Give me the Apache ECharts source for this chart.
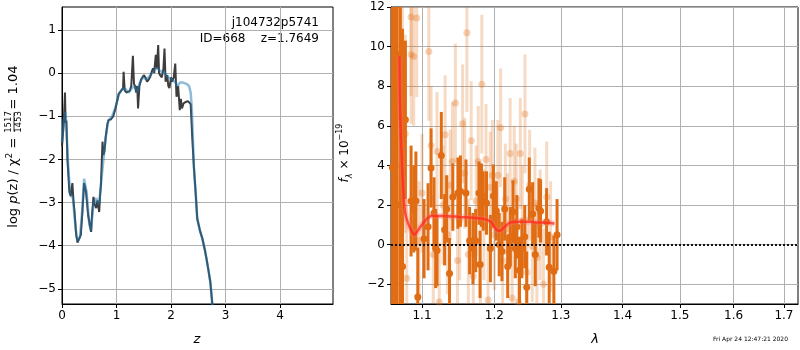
<!DOCTYPE html>
<html>
<head>
<meta charset="utf-8">
<script src="https://cdn.jsdelivr.net/npm/echarts@6/dist/echarts.min.js"></script>
<style>
  html, body { margin: 0; padding: 0; background: #fff; }
  #chart { width: 800px; height: 350px; }
</style>
</head>
<body>
<div id="chart"></div>
<script>
// left panel: log p(z), spiky curve and smooth fit
var zDark = [0.00, 0.03, 0.055, 0.065, 0.08, 0.10, 0.135, 0.16, 0.19, 0.21, 0.23, 0.26, 0.285, 0.31, 0.345, 0.37, 0.405, 0.44, 0.48, 0.534, 0.55, 0.577, 0.60, 0.627, 0.65, 0.682, 0.70, 0.713, 0.743, 0.76, 0.78, 0.80, 0.83, 0.854, 0.90, 0.94, 0.98, 1.02, 1.04, 1.09, 1.12, 1.13, 1.15, 1.18, 1.21, 1.24, 1.27, 1.30, 1.32, 1.34, 1.36, 1.38, 1.395, 1.42, 1.45, 1.50, 1.53, 1.56, 1.59, 1.62, 1.65, 1.67, 1.69, 1.72, 1.74, 1.764, 1.78, 1.80, 1.83, 1.86, 1.88, 1.90, 1.93, 1.95, 1.97, 2.00, 2.02, 2.05, 2.077, 2.10, 2.13, 2.16, 2.18, 2.20, 2.23, 2.27, 2.31, 2.33, 2.36, 2.39, 2.42, 2.45, 2.48, 2.53, 2.575, 2.62, 2.65, 2.69, 2.72, 2.76, 2.80];
var logpDark = [-1.70, -1.20, -0.45, -1.15, -1.10, -2.00, -2.75, -2.85, -2.55, -2.95, -3.22, -3.75, -3.93, -3.90, -3.75, -3.30, -2.55, -2.75, -3.30, -3.68, -3.30, -2.87, -3.05, -3.13, -2.95, -3.22, -2.80, -2.62, -1.59, -1.90, -1.80, -1.50, -1.20, -1.09, -1.07, -1.00, -0.82, -0.60, -0.48, -0.40, -0.35, 0.03, -0.40, -0.45, -0.47, -0.42, -0.30, 0.40, -0.25, -0.30, -0.45, -0.30, -0.82, -0.30, -0.15, -0.05, -0.10, -0.20, -0.15, -0.08, 0.05, 0.11, 0.00, 0.42, 0.10, 0.65, 0.00, -0.05, -0.10, 0.10, 0.57, -0.20, -0.05, -0.30, -0.35, -0.10, -0.20, -0.10, 0.22, -0.55, -0.30, -0.86, -0.60, -0.82, -0.70, -0.67, -0.65, -0.63, -0.72, -1.52, -2.20, -2.75, -3.37, -3.65, -3.84, -4.10, -4.30, -4.60, -4.84, -5.40, -6.00];
var zFit = [0.00, 0.03, 0.06, 0.08, 0.11, 0.15, 0.20, 0.25, 0.285, 0.33, 0.37, 0.405, 0.45, 0.50, 0.53, 0.58, 0.63, 0.68, 0.72, 0.76, 0.80, 0.85, 0.92, 0.98, 1.04, 1.10, 1.15, 1.22, 1.28, 1.33, 1.38, 1.42, 1.48, 1.55, 1.62, 1.68, 1.74, 1.80, 1.88, 1.95, 2.02, 2.08, 2.12, 2.16, 2.22, 2.28, 2.33, 2.36, 2.38, 2.40, 2.42, 2.45, 2.48, 2.53, 2.575, 2.62, 2.65, 2.69, 2.72, 2.76, 2.80];
var logpFit = [-1.60, -1.10, -0.90, -1.20, -2.10, -2.80, -2.90, -3.60, -3.90, -3.80, -3.20, -2.45, -2.75, -3.50, -3.65, -3.00, -2.90, -3.05, -2.50, -2.00, -1.50, -1.10, -1.00, -0.80, -0.50, -0.38, -0.35, -0.45, -0.35, -0.30, -0.45, -0.25, -0.10, -0.15, -0.05, 0.05, 0.12, 0.05, 0.00, -0.10, -0.15, -0.22, -0.30, -0.22, -0.22, -0.25, -0.30, -0.45, -0.80, -1.50, -2.20, -2.75, -3.37, -3.65, -3.84, -4.10, -4.30, -4.60, -4.84, -5.40, -6.00];
var zTicks = [0, 1, 2, 3, 4];
var logpTicks = [-5, -4, -3, -2, -1, 0, 1];

// right panel: spectrum points with errors and model
var lamDark = [1.0615, 1.0644, 1.0675, 1.0717, 1.0745, 1.0782, 1.0856, 1.0891, 1.0919, 1.0944, 1.1027, 1.108, 1.112, 1.116, 1.1182, 1.12, 1.1258, 1.1303, 1.133, 1.137, 1.1415, 1.1485, 1.152, 1.1597, 1.1648, 1.1695, 1.1733, 1.178, 1.1795, 1.1815, 1.184, 1.1887, 1.1943, 1.1986, 1.2029, 1.207, 1.211, 1.215, 1.2194, 1.2233, 1.2272, 1.2306, 1.233, 1.2368, 1.2403, 1.2447, 1.2476, 1.2515, 1.2566, 1.2605, 1.266, 1.2686, 1.2778, 1.2818, 1.289, 1.294];
var fluxDark = [3.9, -0.3, 2.0, 9.6, -1.1, 6.3, 2.2, 1.8, 2.2, -2.65, 0.3, 0.9, 3.87, 1.6, -0.2, -0.3, 4.5, 0.75, 1.8, -1.46, 2.4, 2.6, 2.7, 2.6, 0.2, -0.2, 0.2, 2.6, -1.0, 2.5, 2.2, 2.1, -0.2, 2.45, 1.7, 0.0, -0.35, 1.8, -1.1, 0.4, 1.65, -0.2, 0.9, -1.3, -0.2, 0.4, -2.15, 2.8, 1.55, -0.5, 1.85, 1.7, 1.15, -1.15, -1.35, 0.5];
var errDark = [20, 20, 20, 15, 12, 4, 2.8, 2.2, 2.5, 2.5, 2.0, 2.2, 2.0, 1.8, 2.0, 1.8, 2.2, 1.8, 1.7, 1.8, 1.7, 1.8, 1.8, 1.7, 1.7, 1.8, 1.6, 1.6, 1.7, 1.6, 1.5, 1.6, 1.7, 1.6, 1.5, 1.6, 1.5, 1.6, 1.6, 1.5, 1.6, 1.5, 1.6, 1.7, 1.5, 1.6, 1.8, 1.6, 1.6, 1.6, 1.5, 1.6, 1.7, 1.8, 1.8, 1.8];
var lamLight = [1.066, 1.069, 1.0745, 1.078, 1.080, 1.0855, 1.0857, 1.089, 1.093, 1.096, 1.100, 1.109, 1.112, 1.115, 1.120, 1.123, 1.128, 1.131, 1.134, 1.138, 1.141, 1.145, 1.148, 1.151, 1.155, 1.158, 1.161, 1.163, 1.167, 1.170, 1.174, 1.177, 1.180, 1.182, 1.185, 1.188, 1.191, 1.194, 1.197, 1.200, 1.205, 1.209, 1.212, 1.216, 1.219, 1.223, 1.226, 1.229, 1.232, 1.235, 1.238, 1.241, 1.245, 1.248, 1.252, 1.256, 1.260, 1.263, 1.268, 1.273, 1.278, 1.284];
var fluxLight = [4.0, 6.5, 8.2, 5.6, -1.7, 11.5, 9.6, 9.5, 11.45, 0.2, 2.6, 9.75, 5.0, -0.5, 4.7, -2.9, 2.0, 5.55, 0.5, 3.0, 4.2, 7.15, -0.8, 1.2, 6.1, 3.6, 10.7, -0.5, 5.25, -1.6, 2.2, 4.2, -1.0, 8.1, 1.0, 4.3, -2.8, 2.9, 3.5, 0.5, 3.5, 5.9, -0.8, 2.3, 0.8, 4.6, -2.7, 3.2, 2.3, -2.9, 4.6, 1.2, 6.6, -1.4, 3.0, -0.1, 2.1, -0.65, 1.0, -2.0, 2.4, 0.4];
var errLight = [12, 10, 6, 5, 4, 4, 3.5, 3.5, 4, 3, 3, 3.5, 3, 3, 3, 3, 3, 3, 3, 2.8, 3, 3, 2.8, 3, 3, 2.8, 4, 2.8, 3, 2.8, 2.8, 2.8, 2.8, 3.5, 2.8, 2.8, 2.8, 2.8, 2.8, 2.8, 2.8, 3, 2.8, 2.8, 2.8, 2.8, 2.8, 2.8, 2.8, 2.8, 2.8, 2.8, 3, 2.8, 2.8, 2.8, 2.8, 2.8, 2.8, 2.8, 2.8, 2.8];
var lamModel = [1.0705, 1.0712, 1.0745, 1.0775, 1.0835, 1.0899, 1.097, 1.105, 1.112, 1.13, 1.15, 1.17, 1.185, 1.195, 1.203, 1.208, 1.215, 1.222, 1.235, 1.25, 1.265, 1.28, 1.29];
var fluxModel = [9.5, 6.8, 3.5, 1.7, 0.9, 0.5, 0.85, 1.25, 1.45, 1.45, 1.4, 1.35, 1.3, 1.15, 0.75, 0.7, 0.9, 1.1, 1.15, 1.15, 1.12, 1.1, 1.05];
var lamTicks = [1.1, 1.2, 1.3, 1.4, 1.5, 1.6, 1.7];
var fluxTicks = [-2, 0, 2, 4, 6, 8, 10, 12];

var FONT = 'DejaVu Sans';
var ORANGE = '#e06c14';

function fmt(v) {
    return v < 0 ? '\u2212' + Math.abs(v) : String(v);
}

function pairs(xs, ys) {
    return xs.map(function (x, i) { return [x, ys[i]]; });
}

function errRows(xs, ys, es) {
    return xs.map(function (x, i) { return [x, ys[i] - es[i], ys[i] + es[i]]; });
}

function errBars(rows, color, opacity, width) {
    return {
        type: 'custom',
        xAxisIndex: 1,
        yAxisIndex: 1,
        clip: true,
        data: rows,
        renderItem: function (params, api) {
            var a = api.coord([api.value(0), api.value(1)]);
            var b = api.coord([api.value(0), api.value(2)]);
            return {
                type: 'line',
                shape: { x1: a[0], y1: a[1], x2: b[0], y2: b[1] },
                style: { stroke: color, lineWidth: width, opacity: opacity }
            };
        }
    };
}

// matplotlib-like axis: black spine, short outer ticks, grey grid
function axis(extra, ticks) {
    return Object.assign({
        axisLine: { onZero: false, lineStyle: { color: '#000', width: 1 } },
        axisTick: { length: 4, lineStyle: { color: '#000' }, customValues: ticks },
        axisLabel: { color: '#000', fontSize: 12, fontFamily: FONT, margin: 6, formatter: fmt, customValues: ticks },
        splitLine: { show: true, lineStyle: { color: '#b0b0b0', width: 1 } }
    }, extra);
}

var chart = echarts.init(document.getElementById('chart'));
chart.setOption({
    animation: false,
    grid: [
        { left: 62, right: 467, top: 7, bottom: 46, show: true, borderColor: '#000', borderWidth: 1 },
        { left: 391, right: 2, top: 7, bottom: 46, show: true, borderColor: '#000', borderWidth: 1 }
    ],
    xAxis: [
        axis({ type: 'value', gridIndex: 0, min: 0, max: 4.97 }, zTicks),
        axis({ type: 'log', logBase: 10, gridIndex: 1, min: 1.0597, max: 1.729 }, lamTicks)
    ],
    yAxis: [
        axis({ type: 'value', gridIndex: 0, min: -5.35, max: 1.53 }, logpTicks),
        axis({ type: 'value', gridIndex: 1, min: -3, max: 12 }, fluxTicks)
    ],
    series: [
        {
            type: 'line', xAxisIndex: 0, yAxisIndex: 0, showSymbol: false,
            data: pairs(zDark, logpDark),
            lineStyle: { color: '#333333', width: 2, opacity: 0.95 }
        },
        {
            type: 'line', xAxisIndex: 0, yAxisIndex: 0, showSymbol: false,
            data: pairs(zFit, logpFit),
            lineStyle: { color: '#1f77b4', width: 2.5, opacity: 0.5 }
        },
        errBars(errRows(lamLight, fluxLight, errLight), ORANGE, 0.25, 3),
        {
            type: 'scatter', xAxisIndex: 1, yAxisIndex: 1, symbolSize: 7,
            data: pairs(lamLight, fluxLight),
            itemStyle: { color: ORANGE, opacity: 0.3 }
        },
        errBars(errRows(lamDark, fluxDark, errDark), ORANGE, 1, 3),
        {
            type: 'scatter', xAxisIndex: 1, yAxisIndex: 1, symbolSize: 7,
            data: pairs(lamDark, fluxDark),
            itemStyle: { color: ORANGE, opacity: 1 }
        },
        {
            type: 'line', xAxisIndex: 1, yAxisIndex: 1, showSymbol: false, smooth: 0.2,
            data: pairs(lamModel, fluxModel),
            lineStyle: { color: '#ff7070', width: 6, opacity: 0.3 }
        },
        {
            type: 'line', xAxisIndex: 1, yAxisIndex: 1, showSymbol: false, smooth: 0.2,
            data: pairs(lamModel, fluxModel),
            lineStyle: { color: '#ff2a1a', width: 2.5, opacity: 0.75 },
            markLine: {
                silent: true, symbol: 'none', label: { show: false },
                lineStyle: { color: '#111', width: 2, type: [2, 2], opacity: 1 },
                data: [{ yAxis: 0 }]
            }
        }
    ],
    graphic: [
        {
            type: 'text', x: 319, y: 23,
            style: { text: 'j104732p5741', fill: '#000', fontSize: 12, fontFamily: FONT, align: 'right', verticalAlign: 'middle' }
        },
        {
            type: 'text', x: 319, y: 39,
            style: { text: 'ID=668    z=1.7649', fill: '#000', fontSize: 12, fontFamily: FONT, align: 'right', verticalAlign: 'middle' }
        },
        {
            type: 'text', x: 197, y: 340,
            style: { text: 'z', fill: '#000', fontSize: 13, fontFamily: FONT, fontStyle: 'italic', align: 'center', verticalAlign: 'middle' }
        },
        {
            type: 'text', x: 595, y: 340,
            style: { text: 'λ', fill: '#000', fontSize: 13, fontFamily: FONT, fontStyle: 'italic', align: 'center', verticalAlign: 'middle' }
        },
        {
            type: 'text', x: 788, y: 339,
            style: { text: 'Fri Apr 24 12:47:21 2020', fill: '#000', fontSize: 6, fontFamily: FONT, align: 'right', verticalAlign: 'middle' }
        },
        {
            type: 'group', x: 14, y: 152.5, rotation: Math.PI / 2,
            children: [
                {
                    type: 'text', x: 19, y: 0,
                    style: {
                        text: 'log {i|p}(z) / χ{p|2} = ', fill: '#000', fontSize: 13, fontFamily: FONT,
                        align: 'right', verticalAlign: 'middle', lineHeight: 18,
                        rich: {
                            i: { fontStyle: 'italic', fontSize: 13, fontFamily: FONT, lineHeight: 18 },
                            p: { fontSize: 9, fontFamily: FONT, verticalAlign: 'top', lineHeight: 18 }
                        }
                    }
                },
                {
                    type: 'text', x: 30.5, y: -5,
                    style: { text: '1517', fill: '#000', fontSize: 8.5, fontFamily: FONT, align: 'center', verticalAlign: 'middle' }
                },
                {
                    type: 'line', shape: { x1: 21, y1: 0, x2: 40, y2: 0 },
                    style: { stroke: '#000', lineWidth: 0.8 }
                },
                {
                    type: 'text', x: 30.5, y: 5,
                    style: { text: '1453', fill: '#000', fontSize: 8.5, fontFamily: FONT, align: 'center', verticalAlign: 'middle' }
                },
                {
                    type: 'text', x: 43, y: 0,
                    style: { text: '= 1.04', fill: '#000', fontSize: 13, fontFamily: FONT, align: 'left', verticalAlign: 'middle' }
                }
            ]
        },
        {
            type: 'text', x: 345, y: 153, rotation: Math.PI / 2,
            style: {
                text: '{i|f}{s|λ} × 10{p|−19}', fill: '#000', fontSize: 12, fontFamily: FONT,
                align: 'center', verticalAlign: 'middle', lineHeight: 18,
                rich: {
                    i: { fontStyle: 'italic', fontSize: 12, fontFamily: FONT, lineHeight: 18 },
                    s: { fontStyle: 'italic', fontSize: 8, fontFamily: FONT, verticalAlign: 'bottom', lineHeight: 18 },
                    p: { fontSize: 8, fontFamily: FONT, verticalAlign: 'top', lineHeight: 18 }
                }
            }
        }
    ]
});
</script>
</body>
</html>
